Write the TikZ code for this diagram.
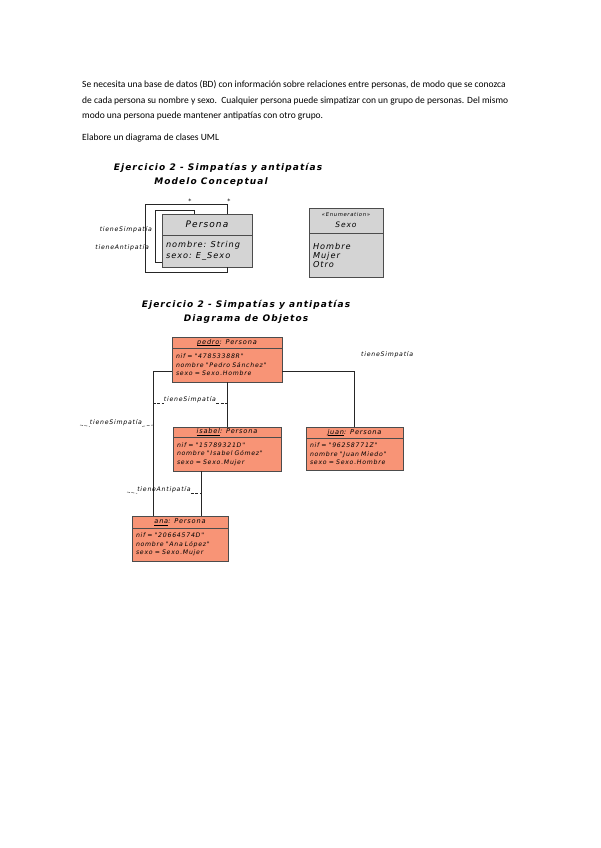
\documentclass[tikz,border=0pt]{standalone}
\usepackage{fontspec}
\setmainfont{Carlito}
\newfontfamily\sketchfont{DejaVu Sans}[LetterSpace=12]
\usepackage{tikz}
\definecolor{salmon}{RGB}{248,148,118}
\definecolor{classgray}{RGB}{212,212,212}
\newsavebox\objnamebox
\newcommand\objname[1]{\sbox\objnamebox{#1}\rlap{\rule[-1.3pt]{\wd\objnamebox}{0.4pt}}\usebox\objnamebox}
\tikzstyle{para} = [anchor=west, inner sep=0pt, font=\fontsize{9.5}{11}\selectfont]
\tikzstyle{title} = [inner sep=0pt, font=\sketchfont\bfseries\itshape\fontsize{9}{10}\selectfont]
\tikzstyle{classhead} = [rectangle, draw=black!70, fill=classgray, inner sep=0pt, align=center, font=\sketchfont\itshape\fontsize{9}{10}\selectfont]
\tikzstyle{classbody} = [classhead, align=left, inner xsep=4pt, font=\sketchfont\itshape\fontsize{8.2}{11.5}\selectfont]
\tikzstyle{objhead} = [rectangle, draw=black!70, fill=salmon, inner sep=0pt, align=center, font=\sketchfont\itshape\fontsize{6.6}{7}\selectfont]
\tikzstyle{objbody} = [objhead, align=left, inner xsep=4pt, font=\sketchfont\itshape\fontsize{6.2}{8.5}\selectfont]
\tikzstyle{link} = [draw=black!85, thick]
\tikzstyle{tagline} = [draw=black!85, dash pattern=on 3pt off 1.5pt]
\tikzstyle{tag} = [inner sep=0pt, font=\sketchfont\itshape\fontsize{6.2}{7}\selectfont]

\begin{document}
\begin{tikzpicture}[x=1pt, y=-1pt]
\useasboundingbox[fill=white] (0,0) rectangle (600,848);

% Statement
\node[para] (txt1) at (82,85) {Se necesita una base de datos (BD) con información sobre relaciones entre personas, de modo que se conozca};
\node[para] (txt2) at (82,101) {de cada persona su nombre y sexo.\ \ Cualquier persona puede simpatizar con un grupo de personas. Del mismo};
\node[para] (txt3) at (82,116) {modo una persona puede mantener antipatías con otro grupo.};
\node[para] (txt4) at (82,138) {Elabore un diagrama de clases UML};

% Conceptual model
\node[title] (tit1) at (218,168) {Ejercicio 2 - Simpatías y antipatías};
\node[title] (tit2) at (211,182) {Modelo Conceptual};
% class Persona
\node[classhead, minimum width=90, minimum height=21] (persH) at (207,224.5) {Persona};
\node[classbody, text width=82, minimum height=32] (persB) at (207,251) {nombre: String\\sexo: E\_Sexo};
% enumeration Sexo
\node[classhead, minimum width=74, minimum height=25] (sexoH) at (346,220.5) {{\fontsize{5.3}{7}\selectfont «Enumeration»}\\[1pt]{\fontsize{7.5}{8}\selectfont Sexo}};
\node[classbody, text width=66, minimum height=44] (sexoB) at (346,255) {Hombre\\[-2.5pt]Mujer\\[-2.5pt]Otro};
% self associations
\coordinate (loopA1) at (145,204);
\coordinate (loopA2) at (145,272);
\coordinate (loopB1) at (155,210);
\draw[link] ([xshift=20pt]persH.north) |- (loopA1) -- (loopA2) -| ([xshift=20pt]persB.south);
\draw[link] ([xshift=-13pt]persH.north) |- (loopB1) |- ([yshift=-11pt]persB.west);
\node[tag] (multA) at (229,201) {*};
\node[tag] (multB) at (190,201) {*};
\node[tag, anchor=east] (roleSimp) at (152,230) {tieneSimpatía};
\node[tag, anchor=east] (roleAnti) at (149,248) {tieneAntipatía};

% Object diagram
\node[title] (tit3) at (246,305) {Ejercicio 2 - Simpatías y antipatías};
\node[title] (tit4) at (246,319) {Diagrama de Objetos};
% pedro
\node[objhead, minimum width=110, minimum height=11] (pedroH) at (227,342.5) {\objname{pedro}: Persona};
\node[objbody, text width=102, minimum height=34] (pedroB) at (227,365) {nif = "47853388R"\\nombre "Pedro Sánchez"\\sexo = Sexo.Hombre};
% isabel
\node[objhead, minimum width=108, minimum height=10] (isabelH) at (227,432) {\objname{isabel}: Persona};
\node[objbody, text width=100, minimum height=34] (isabelB) at (227,454) {nif = "15789321D"\\nombre "Isabel Gómez"\\sexo = Sexo.Mujer};
% juan
\node[objhead, minimum width=97, minimum height=11] (juanH) at (354.5,432.5) {\objname{juan}: Persona};
\node[objbody, text width=89, minimum height=32] (juanB) at (354.5,454) {nif = "96258771Z"\\nombre "Juan Miedo"\\sexo = Sexo.Hombre};
% ana
\node[objhead, minimum width=96, minimum height=12] (anaH) at (180,522) {\objname{ana}: Persona};
\node[objbody, text width=88, minimum height=33] (anaB) at (180,544.5) {nif = "20664574D"\\nombre "Ana López"\\sexo = Sexo.Mujer};
% links
\draw[link] ([yshift=-6pt]pedroB.east) -| (juanH.north);
\draw[link] ([yshift=-6pt]pedroB.west) -| ([xshift=-27pt]anaH.north);
\draw[link] (pedroB.south) -- (isabelH.north);
\draw[link] ([xshift=-26pt]isabelB.south) -- ([xshift=-26pt]isabelB.south |- anaH.north);
% link labels
\node[tag, anchor=west] (lblJuan) at (361,355) {tieneSimpatía};
\node[tag] (lblIsabel) at (190,400) {tieneSimpatía};
\draw[tagline] (153,403) |- (lblIsabel.south west);
\draw[tagline] (lblIsabel.south east) -| (227,403);
\coordinate (lblAnaEnd) at (80,425);
\node[tag] (lblAna) at (116,423) {tieneSimpatía};
\draw[tagline] (lblAnaEnd) -- (lblAna.south west);
\draw[tagline] (lblAna.south east) -- (153,425);
\coordinate (lblAntiEnd) at (127,492);
\node[tag] (lblAnti) at (164,490) {tieneAntipatía};
\draw[tagline] (lblAntiEnd) -- (lblAnti.south west);
\draw[tagline] (lblAnti.south east) -| (201,494);
\end{tikzpicture}
\end{document}
